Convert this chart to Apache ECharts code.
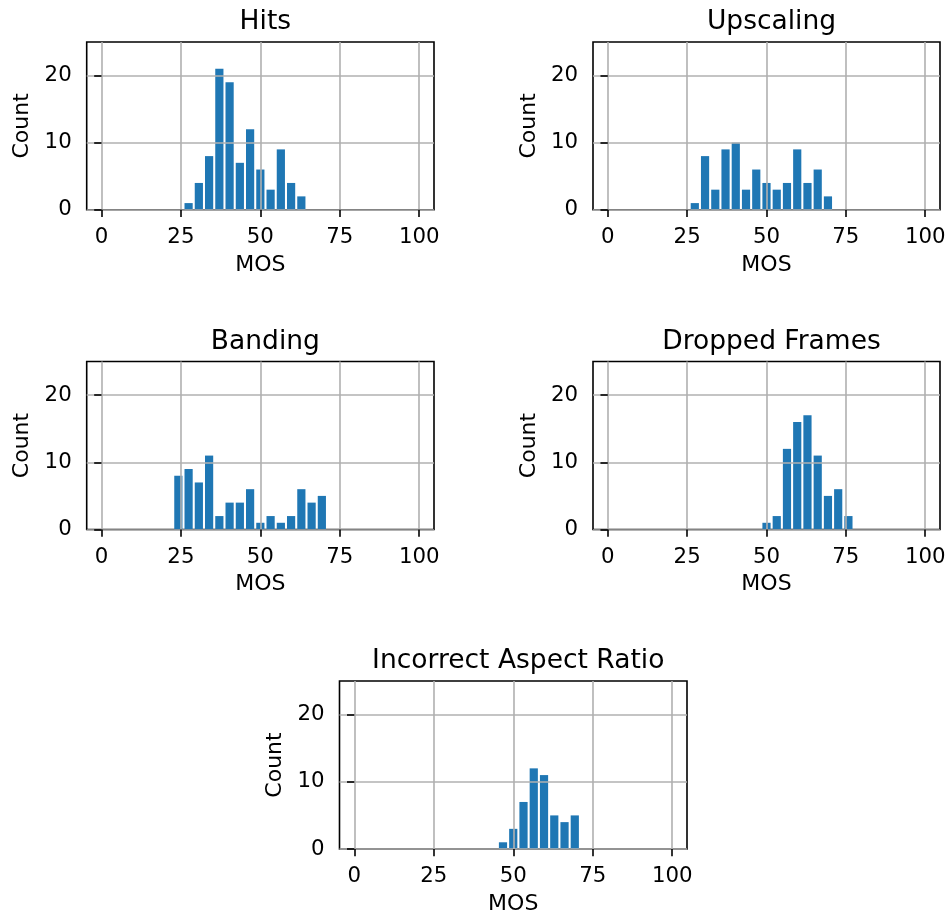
<!DOCTYPE html>
<html>
<head>
<meta charset="utf-8">
<title>MOS histograms</title>
<script src="https://cdn.jsdelivr.net/npm/echarts@6/dist/echarts.min.js"></script>
<style>
  html, body { margin: 0; padding: 0; background: #fff; }
  #chart { width: 950px; height: 916px; }
</style>
</head>
<body>
<div id="chart"></div>
<script>
// Histogram bins: 31 equal bins spanning MOS 0..100
const MOS_MIN = 0;
const MOS_MAX = 100;
const BIN_COUNT = 31;

const panelTitles = ['Hits', 'Upscaling', 'Banding', 'Dropped Frames', 'Incorrect Aspect Ratio'];

// Counts per bin (bin 0 .. bin 30)
const hitsCounts = [0,0,0,0,0,0,0,0, 1,4,8,21,19,7,12,6,3,9,4,2, 0,0,0,0,0,0,0,0,0,0,0];
const upscalingCounts = [0,0,0,0,0,0,0,0, 1,8,3,9,10,3,6,4,3,4,9,4,6,2, 0,0,0,0,0,0,0,0,0];
const bandingCounts = [0,0,0,0,0,0,0, 8,9,7,11,2,4,4,6,1,2,1,2,6,4,5, 0,0,0,0,0,0,0,0,0];
const droppedFramesCounts = [0,0,0,0,0,0,0,0,0,0,0,0,0,0,0, 1,2,12,16,17,11,5,6,2, 0,0,0,0,0,0,0];
const aspectRatioCounts = [0,0,0,0,0,0,0,0,0,0,0,0,0,0, 1,3,7,12,11,5,4,5, 0,0,0,0,0,0,0,0,0];

const panelCounts = [hitsCounts, upscalingCounts, bandingCounts, droppedFramesCounts, aspectRatioCounts];

const xTickValues = [0, 25, 50, 75, 100];
const yTickValues = [0, 10, 20];
const X_LABEL = 'MOS';
const Y_LABEL = 'Count';

// Layout of the five panels (px)
const panelBoxes = [
  { left: 86.7, top: 42, width: 347.3, height: 167.8 },
  { left: 593, top: 42, width: 347, height: 167.8 },
  { left: 86.7, top: 361.5, width: 347.3, height: 168 },
  { left: 593, top: 361.5, width: 347, height: 168 },
  { left: 339.5, top: 681, width: 347.5, height: 168 }
];

const FONT = 'DejaVu Sans';
const BAR_COLOR = '#1f77b4';
const LINE_W = 1.6;
const binWidth = (MOS_MAX - MOS_MIN) / BIN_COUNT;

const grids = [], xAxes = [], yAxes = [], titles = [], series = [];

panelBoxes.forEach((box, i) => {
  grids.push({
    left: box.left, top: box.top, width: box.width, height: box.height,
    show: true, borderColor: '#000', borderWidth: LINE_W, backgroundColor: 'transparent',
    containLabel: false
  });
  titles.push({
    text: panelTitles[i],
    left: box.left + box.width / 2,
    top: box.top - 38,
    textAlign: 'center',
    textStyle: { fontFamily: FONT, fontSize: 26.5, fontWeight: 'normal', color: '#000' }
  });
  xAxes.push({
    type: 'value', gridIndex: i,
    min: -4.65, max: 104.65,
    z: 3,
    axisLine: { show: false },
    axisTick: { show: true, inside: false, length: 7.3, customValues: xTickValues,
                lineStyle: { color: '#000', width: LINE_W } },
    axisLabel: { customValues: xTickValues, margin: 17, fontFamily: FONT, fontSize: 21.3, color: '#000' },
    splitLine: { show: true, lineStyle: { color: '#b0b0b0', width: LINE_W } },
    name: X_LABEL, nameLocation: 'middle', nameGap: 44,
    nameTextStyle: { fontFamily: FONT, fontSize: 22, color: '#000' }
  });
  yAxes.push({
    type: 'value', gridIndex: i,
    min: 0, max: 25,
    z: 3,
    axisLine: { show: false },
    axisTick: { show: true, inside: false, length: 7.3, customValues: yTickValues,
                lineStyle: { color: '#000', width: LINE_W } },
    axisLabel: { customValues: yTickValues, margin: 15, fontFamily: FONT, fontSize: 21.3, color: '#000' },
    splitLine: { show: true, lineStyle: { color: '#b0b0b0', width: LINE_W } },
    name: Y_LABEL, nameLocation: 'middle', nameGap: 53, nameRotate: 90,
    nameTextStyle: { fontFamily: FONT, fontSize: 22, color: '#000' }
  });
  // one bar per bin: 80% of the bin width, centred in the bin
  const data = panelCounts[i].map((c, b) => [b, c]);
  series.push({
    type: 'custom', xAxisIndex: i, yAxisIndex: i, z: 1,
    data: data,
    renderItem: function (params, api) {
      const b = api.value(0);
      const c = api.value(1);
      if (!c) return null;
      const lo = MOS_MIN + b * binWidth + 0.1 * binWidth;
      const hi = lo + 0.8 * binWidth;
      const p0 = api.coord([lo, c]);
      const p1 = api.coord([hi, 0]);
      return {
        type: 'rect',
        shape: { x: p0[0], y: p0[1], width: p1[0] - p0[0], height: p1[1] - p0[1] },
        style: { fill: BAR_COLOR }
      };
    }
  });
});

const chart = echarts.init(document.getElementById('chart'), null, { renderer: 'canvas' });
chart.setOption({
  animation: false,
  backgroundColor: '#fff',
  title: titles,
  grid: grids,
  xAxis: xAxes,
  yAxis: yAxes,
  series: series
});
</script>
</body>
</html>
